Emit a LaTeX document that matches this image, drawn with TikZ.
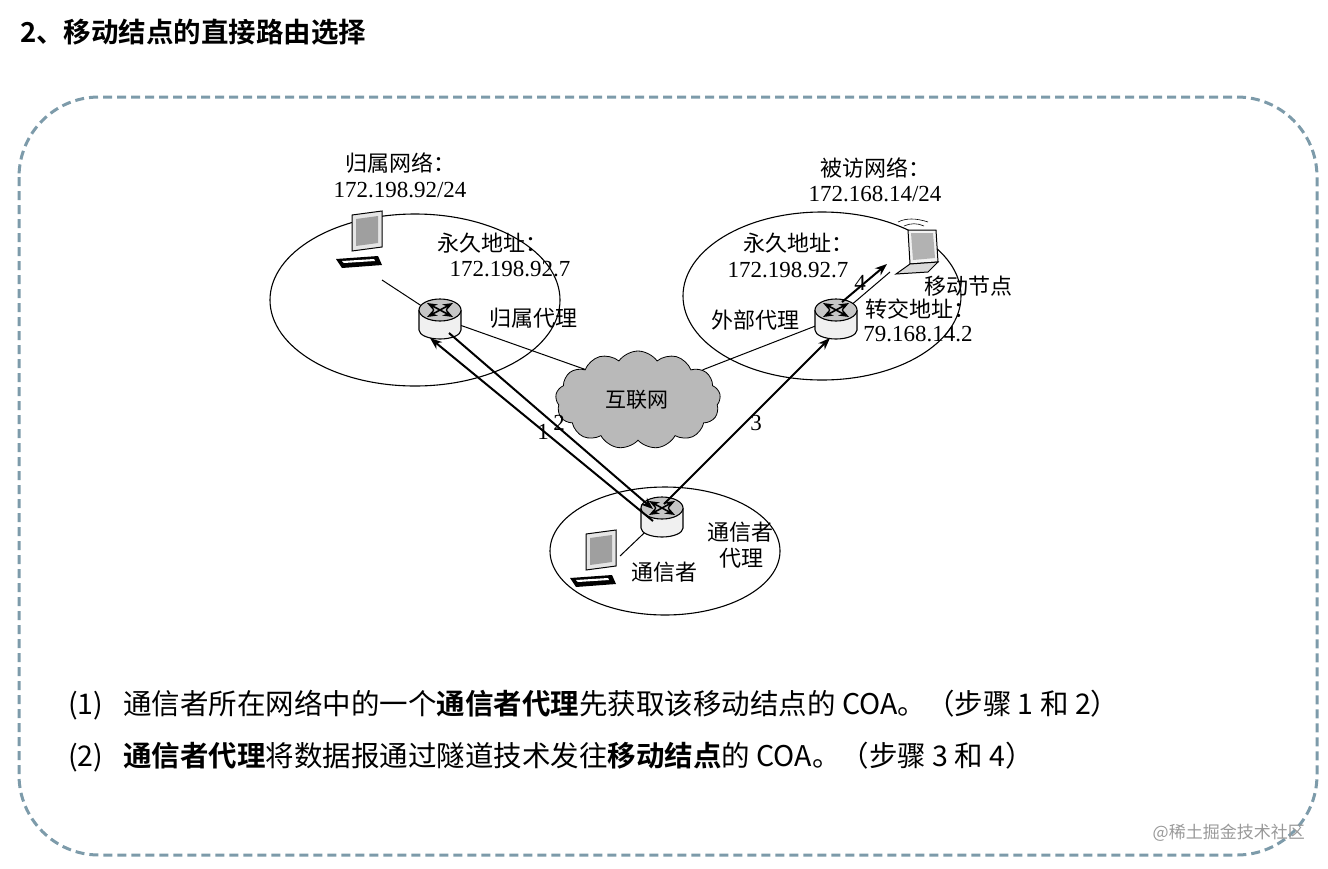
\documentclass[tikz,border=0pt]{standalone}
\usepackage{fontspec}
\setmainfont{Liberation Serif}
\newfontfamily\cjk{Noto Sans CJK SC}
\newfontfamily\cjkb{Noto Sans CJK SC Bold}
\usetikzlibrary{shapes.symbols,arrows.meta}
\tikzset{
  lbl/.style={font=\fontsize{23}{26}\selectfont, inner sep=0},
  net/.style={draw, line width=1.1pt},
  wire/.style={line width=1pt},
  flow/.style={line width=2pt,-{Stealth[length=12pt,width=9pt]}},
  rtr/.style={circle, minimum size=44pt, inner sep=0},
}
\newcommand{\routerat}[1]{%
  \begin{scope}[shift={(#1)}]
   \fill[gray!12] (-21,-8) -- (-21,12) arc[start angle=180,end angle=0,x radius=21,y radius=9] -- (21,-8) -- cycle;
   \draw[line width=1.1pt] (-21,-8) -- (-21,12) arc[start angle=180,end angle=0,x radius=21,y radius=9] -- (21,-8);
   \draw[line width=1.1pt,fill=gray!45] (0,-8) ellipse[x radius=21,y radius=11];
   \draw[line width=1.6pt,<->,>=Stealth] (-13,-15) -- (13,-1);
   \draw[line width=1.6pt,<->,>=Stealth] (-13,-1) -- (13,-15);
  \end{scope}}
\newcommand{\pcat}[1]{%
  \begin{scope}[shift={(#1)}]
   \draw[line width=1pt,fill=gray!20] (-12,-30) -- (18,-34) -- (18,2) -- (-12,6) -- cycle;
   \fill[gray!75] (-8,-26) -- (14,-29) -- (14,-2) -- (-8,1) -- cycle;
   \fill (-28,14) -- (14,11) -- (18,20) -- (-22,23) -- cycle;
   \fill[white] (-22,16) -- (10,14) -- (11,16) -- (-20,18) -- cycle;
  \end{scope}}
\begin{document}
\begin{tikzpicture}[x=1pt,y=-1pt]
\useasboundingbox (0,0) rectangle (1328,868);
\node[anchor=west,font=\cjkb\fontsize{27.5}{30}\selectfont,inner sep=0] (title) at (20,32) {2、移动结点的直接路由选择};
\draw[color={rgb,255:red,125;green,155;blue,170},line width=3pt,dash pattern=on 9pt off 5pt,rounded corners=80pt] (19,97) rectangle (1317,855);

% networks
\draw[net] (415,300) ellipse[x radius=145,y radius=86];
\draw[net] (822,296) ellipse[x radius=139,y radius=84];
\draw[net] (665,551) ellipse[x radius=115,y radius=64];
\node[cloud, cloud puffs=13, cloud puff arc=110, aspect=1.7, draw, fill=gray!55, line width=0.8pt, minimum width=165pt, minimum height=98pt] (inet) at (638,400) {};
\node[lbl,font=\cjk\fontsize{21}{24}\selectfont] (inetl) at (637,400) {互联网};

% routers
\node[rtr] (ha) at (440,318) {};
\node[rtr] (fa) at (836,318) {};
\node[rtr] (ca) at (662,516) {};
\coordinate (hpc) at (364,245);
\coordinate (mn) at (910,250);
\coordinate (cpc) at (598,564);

\draw[wire] (382,280) -- (ha);
\draw[wire] (ha) -- (inet.150);
\draw[wire] (fa) -- (inet.25);
\draw[wire] (fa) -- (890,272);
\draw[wire] (ca) -- (620,556);

\routerat{ha}\routerat{fa}\routerat{ca}
\pcat{hpc}\pcat{cpc}
% laptop
\begin{scope}[shift={(mn)}]
  \draw[line width=1pt,fill=gray!10] (-2,-20) -- (26,-20) -- (28,12) -- (0,14) -- cycle;
  \fill[gray!60] (1,-17) -- (23,-17) -- (25,8) -- (3,10) -- cycle;
  \draw[line width=1pt,fill=gray!30] (0,14) -- (28,12) -- (18,22) -- (-14,24) -- cycle;
  \draw[line width=0.6pt] (-12,-28) .. controls (-4,-32) and (6,-32) .. (18,-28);
  \draw[line width=0.6pt] (-6,-24) .. controls (0,-27) and (8,-27) .. (14,-24);
\end{scope}

% flows
\draw[flow] ([shift={(-9,5)}]ca.center) -- ([shift={(-10,20)}]ha.center);
\draw[flow] ([shift={(9,15)}]ha.center) -- ([shift={(-9,-7)}]ca.center);
\draw[flow] ([shift={(2,-12)}]ca.center) -- ([shift={(-6,20)}]fa.center);
\draw[flow] ([shift={(6,-16)}]fa.center) -- (887,264);
\node[lbl] (n1) at (543,432) {1};
\node[lbl] (n2) at (559,423) {2};
\node[lbl] (n3) at (756,423) {3};
\node[lbl] (n4) at (860,283) {4};

% labels
\begin{scope}[every node/.style={lbl,font=\cjk\fontsize{22}{25}\selectfont}]
\node (a1) at (400,163) {归属网络：};
\node (a3) at (492,243) {永久地址：};
\node (a5) at (533,318) {归属代理};
\node (b1) at (875,168) {被访网络：};
\node (b3) at (798,243) {永久地址：};
\node (b5) at (968,286) {移动节点};
\node (b6) at (755,320) {外部代理};
\node (b7) at (920,309) {转交地址：};
\node (c1) at (740,532) {通信者};
\node (c2) at (741,558) {代理};
\node (c3) at (664,572) {通信者};
\end{scope}
\node[lbl] (a2) at (400,190) {172.198.92/24};
\node[lbl] (a4) at (510,269) {172.198.92.7};
\node[lbl] (b2) at (875,194) {172.168.14/24};
\node[lbl] (b4) at (788,270) {172.198.92.7};
\node[lbl] (b8) at (918,334) {79.168.14.2};

\node[anchor=west,font=\cjk\fontsize{28.5}{31}\selectfont,inner sep=0] (t1) at (68,705) {(1)\hspace{20pt}通信者所在网络中的一个{\cjkb 通信者代理}先获取该移动结点的 COA。（步骤 1 和 2）};
\node[anchor=west,font=\cjk\fontsize{28.5}{31}\selectfont,inner sep=0] (t2) at (68,757) {(2)\hspace{20pt}{\cjkb 通信者代理}将数据报通过隧道技术发往{\cjkb 移动结点}的 COA。（步骤 3 和 4）};
\node[anchor=east,font=\cjk\fontsize{17}{19}\selectfont,text=gray!80,inner sep=0] (wm) at (1305,833) {@稀土掘金技术社区};
\end{tikzpicture}
\end{document}
